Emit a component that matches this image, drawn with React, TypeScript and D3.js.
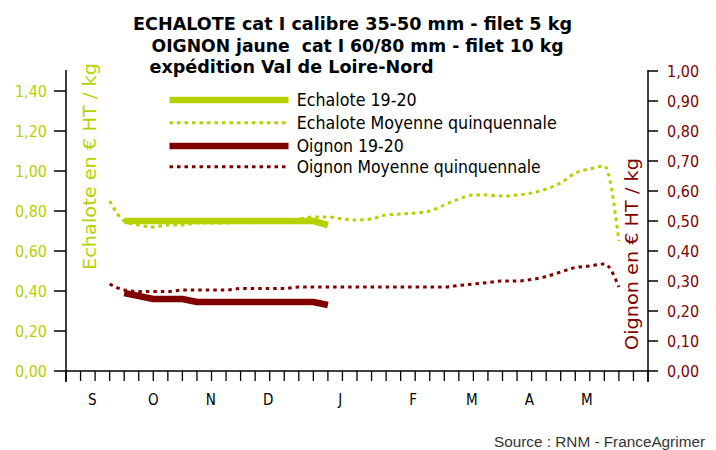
import React from 'react';
import * as d3 from 'd3';

// Week categories (ISO weeks), Sept 2019 -> June 2020
const weeks: string[] = [
  '34', '35', '36', '37', '38', '39', '40', '41', '42', '43', '44', '45', '46', '47', '48', '49', '50', '51', '52',
  '1', '2', '3', '4', '5', '6', '7', '8', '9', '10', '11', '12', '13', '14', '15', '16', '17', '18', '19', '20', '21', '22',
];

const monthLabels: string[] = ['S', 'O', 'N', 'D', 'J', 'F', 'M', 'A', 'M'];
// category position (week index) under which each month letter sits
const monthAt: number[] = [1.8, 6, 9.95, 13.9, 18.85, 23.85, 27.9, 31.85, 35.8];

const leftTicks: number[] = [0, 0.2, 0.4, 0.6, 0.8, 1.0, 1.2, 1.4];
const rightTicks: number[] = [0, 0.1, 0.2, 0.3, 0.4, 0.5, 0.6, 0.7, 0.8, 0.9, 1.0];

const N = null;
const echaloteCur: (number | null)[] = [
  N, N, N, N, 0.75, 0.75, 0.75, 0.75, 0.75, 0.75, 0.75, 0.75, 0.75, 0.75, 0.75, 0.75, 0.75, 0.75, 0.73,
  N, N, N, N, N, N, N, N, N, N, N, N, N, N, N, N, N, N, N, N, N, N,
];
const echaloteAvg: (number | null)[] = [
  N, N, N, 0.85, 0.75, 0.73, 0.72, 0.73, 0.73, 0.74, 0.74, 0.74, 0.75, 0.75, 0.75, 0.75, 0.76, 0.77, 0.77,
  0.76, 0.755, 0.76, 0.78, 0.785, 0.79, 0.8, 0.83, 0.86, 0.88, 0.88, 0.875, 0.88, 0.89, 0.91, 0.94, 0.99, 1.01, 1.025, 0.65,
  N, N,
];
const oignonCur: (number | null)[] = [
  N, N, N, N, 0.26, 0.25, 0.24, 0.24, 0.24, 0.23, 0.23, 0.23, 0.23, 0.23, 0.23, 0.23, 0.23, 0.23, 0.22,
  N, N, N, N, N, N, N, N, N, N, N, N, N, N, N, N, N, N, N, N, N, N,
];
const oignonAvg: (number | null)[] = [
  N, N, N, 0.29, 0.27, 0.265, 0.265, 0.265, 0.27, 0.27, 0.27, 0.27, 0.275, 0.275, 0.275, 0.275, 0.28, 0.28, 0.28,
  0.28, 0.28, 0.28, 0.28, 0.28, 0.28, 0.28, 0.28, 0.285, 0.29, 0.295, 0.3, 0.3, 0.305, 0.315, 0.33, 0.345, 0.35, 0.357, 0.28,
  N, N,
];

const titleLines: string[] = [
  'ECHALOTE cat I calibre 35-50 mm - filet 5 kg',
  'OIGNON jaune  cat I 60/80 mm - filet 10 kg',
  'expédition Val de Loire-Nord',
];
const legendLabels: string[] = [
  'Echalote 19-20',
  'Echalote Moyenne quinquennale',
  'Oignon 19-20',
  'Oignon Moyenne quinquennale',
];

const GREEN = '#b4d200';
const RED = '#800000';
const FONT = "'DejaVu Sans Condensed', 'DejaVu Sans', sans-serif";

export default function App() {
  const W = 716;
  const H = 450;
  const x0 = 66;
  const x1 = 648;
  const yB = 371;
  const yT = 71;

  const x = d3.scaleLinear().domain([0, weeks.length - 1]).range([x0, x1]);
  const yL = d3.scaleLinear().domain([0, 1.5]).range([yB, yT]);
  const yR = d3.scaleLinear().domain([0, 1.0]).range([yB, yT]);

  const mkLine = (ys: d3.ScaleLinear<number, number>, curve: d3.CurveFactory) =>
    d3
      .line<number | null>()
      .defined((d) => d !== null)
      .x((_, i) => x(i))
      .y((d) => ys(d as number))
      .curve(curve);

  const lineLcur = mkLine(yL, d3.curveLinear);
  const lineLavg = mkLine(yL, d3.curveMonotoneX);
  const lineRcur = mkLine(yR, d3.curveLinear);
  const lineRavg = mkLine(yR, d3.curveMonotoneX);

  const titleX = [133, 151.5, 149.5];
  const titleY = [30, 52, 73];
  const titleLen = [439, 412, 284];

  const legY = [100, 122.7, 146, 166.7];
  const legLen = [120, 260, 107, 244];
  const legStyles = [
    { color: GREEN, w: 6.5, dash: undefined as string | undefined },
    { color: GREEN, w: 3, dash: '3.5 4' },
    { color: RED, w: 6.5, dash: undefined as string | undefined },
    { color: RED, w: 3, dash: '3.5 4' },
  ];

  return (
    <svg
      width={W}
      height={H}
      style={{ position: 'absolute', left: 0, top: 0, background: '#fff' }}
      fontFamily={FONT}
    >
      <rect x={0} y={0} width={W} height={H} fill="#fff" />
      {/* Title */}
      {titleLines.map((t, i) => (
        <text
          key={i}
          x={titleX[i]}
          y={titleY[i]}
          fontSize={18}
          fontWeight="bold"
          fill="#000"
          textLength={titleLen[i]}
          lengthAdjust="spacingAndGlyphs"
          style={{ whiteSpace: 'pre' }}
        >
          {t}
        </text>
      ))}

      {/* Average lines (dotted) */}
      <path d={lineLavg(echaloteAvg) || ''} fill="none" stroke={GREEN} strokeWidth={3} strokeDasharray="3.5 4" />
      <path d={lineRavg(oignonAvg) || ''} fill="none" stroke={RED} strokeWidth={3} strokeDasharray="3.5 4" />
      {/* Current season lines */}
      <path d={lineLcur(echaloteCur) || ''} fill="none" stroke={GREEN} strokeWidth={6.5} strokeLinejoin="round" />
      <path d={lineRcur(oignonCur) || ''} fill="none" stroke={RED} strokeWidth={6.5} strokeLinejoin="round" />

      {/* Left axis */}
      <line x1={x0} x2={x0} y1={yT - 1} y2={yB + 11} stroke="#000" strokeWidth={1.5} />
      {leftTicks.map((t) => (
        <g key={'l' + t}>
          <line x1={x0 - 12} x2={x0} y1={yL(t)} y2={yL(t)} stroke="#000" strokeWidth={1.5} />
          <text x={x0 - 19} y={yL(t)} dy="0.36em" textAnchor="end" fontSize={16} fill={GREEN}>
            {t.toFixed(2).replace('.', ',')}
          </text>
        </g>
      ))}
      {/* Right axis */}
      <line x1={x1} x2={x1} y1={yT - 1} y2={yB + 11} stroke="#000" strokeWidth={1.5} />
      {rightTicks.map((t) => (
        <g key={'r' + t}>
          <line x1={x1} x2={x1 + 10} y1={yR(t)} y2={yR(t)} stroke="#000" strokeWidth={1.5} />
          <text x={x1 + 19} y={yR(t)} dy="0.36em" textAnchor="start" fontSize={16} fill={RED}>
            {t.toFixed(2).replace('.', ',')}
          </text>
        </g>
      ))}
      {/* X axis */}
      <line x1={x0} x2={x1} y1={yB} y2={yB} stroke="#000" strokeWidth={1.5} />
      {weeks.map((w, i) => (
        <line key={'x' + w + i} x1={x(i)} x2={x(i)} y1={yB} y2={yB + 10} stroke="#000" strokeWidth={1.3} />
      ))}
      {monthLabels.map((m, i) => (
        <text key={'m' + i} x={x(monthAt[i])} y={405} textAnchor="middle" fontSize={15} fill="#000">
          {m}
        </text>
      ))}

      {/* Axis titles */}
      <text
        transform={`translate(96,166.5) rotate(-90)`}
        textAnchor="middle"
        fontSize={17}
        fill={GREEN}
        textLength={207}
        lengthAdjust="spacingAndGlyphs"
      >
        Echalote en € HT / kg
      </text>
      <text
        transform={`translate(637.5,254) rotate(-90)`}
        textAnchor="middle"
        fontSize={17}
        fill={RED}
        textLength={192}
        lengthAdjust="spacingAndGlyphs"
      >
        Oignon en € HT / kg
      </text>

      {/* Legend */}
      {legendLabels.map((l, i) => (
        <g key={'lg' + i}>
          <line
            x1={169.5}
            x2={288.5}
            y1={legY[i]}
            y2={legY[i]}
            stroke={legStyles[i].color}
            strokeWidth={legStyles[i].w}
            strokeDasharray={legStyles[i].dash}
          />
          <text
            x={296.7}
            y={legY[i] + 6}
            fontSize={17}
            fill="#000"
            textLength={legLen[i]}
            lengthAdjust="spacingAndGlyphs"
          >
            {l}
          </text>
        </g>
      ))}

      {/* Source */}
      <text
        x={494}
        y={446.5}
        fontSize={14}
        fontFamily="'Liberation Sans', Arial, sans-serif"
        fill="#333"
        textLength={211}
        lengthAdjust="spacingAndGlyphs"
      >
        Source : RNM - FranceAgrimer
      </text>
    </svg>
  );
}
